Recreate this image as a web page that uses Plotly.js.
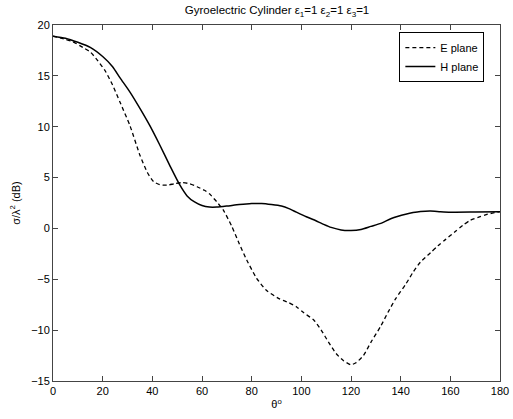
<!DOCTYPE html>
<html>
<head>
<meta charset="utf-8">
<script src="https://cdn.plot.ly/plotly-3.0.1.min.js"></script>
<style>html,body{margin:0;padding:0;background:#fff;}#chart{width:513px;height:419px;}</style>
</head>
<body>
<div id="chart"></div>
<script>
const eTheta = [0,5,8,12,15,18,21,24,27,31,35,38,40.5,43,46,49,52,55,58,61,63,66,68.6,72,75,78,82,86,91,95,98,101,105,108,111,114,117,120,122,125,128,132,135,138,142,145,148,152,155,158,162,165,168,172,175,180];
const ePlane = [18.9,18.6,18.35,17.8,17.35,16.5,15.5,14.1,12.4,10.1,7.2,5.5,4.6,4.3,4.25,4.4,4.5,4.4,4.1,3.75,3.4,2.6,1.8,0.2,-1.5,-3.1,-4.9,-6.1,-6.9,-7.3,-7.7,-8.3,-9.0,-10.0,-11.2,-12.3,-13.0,-13.4,-13.2,-12.5,-11.2,-9.6,-8.2,-6.9,-5.5,-4.3,-3.3,-2.4,-1.7,-1.1,-0.3,0.3,0.8,1.15,1.4,1.65];
const hTheta = [0,5,10,15,20,24,27,31,35,39,43,47,51,54,57,60,63,66,70,75,80,84,88,92,95,98,102,105,109,112,116,120,124,128,132,136,139,142,145,148,152,156,160,170,180];
const hPlane = [18.9,18.7,18.3,17.8,16.9,15.9,14.8,13.4,11.8,10.1,8.2,6.2,4.3,3.2,2.6,2.25,2.1,2.1,2.2,2.35,2.45,2.45,2.35,2.2,1.95,1.6,1.15,0.85,0.4,0.1,-0.15,-0.2,-0.1,0.2,0.5,0.95,1.2,1.4,1.56,1.67,1.72,1.65,1.6,1.62,1.65];
const xTicks = [0,20,40,60,80,100,120,140,160,180];
const yTicks = [-15,-10,-5,0,5,10,15,20];
const seriesNames = ['E plane','H plane'];
const titleText = 'Gyroelectric Cylinder ε<sub>1</sub>=1 ε<sub>2</sub>=1 ε<sub>3</sub>=1';
const xTitle = 'θ<sup>o</sup>';
const yTitle = 'σ/λ<sup>2</sup> (dB)';

const font = {family: 'Liberation Sans, Arial, sans-serif', size: 11, color: '#000'};
const traces = [
  {x: eTheta, y: ePlane, name: seriesNames[0], mode: 'lines',
   line: {color: '#000', width: 1.3, dash: '4px,3px', shape: 'spline', smoothing: 0.6}},
  {x: hTheta, y: hPlane, name: seriesNames[1], mode: 'lines',
   line: {color: '#000', width: 1.5, shape: 'spline', smoothing: 0.6}}
];
const axisCommon = {
  showgrid: false, zeroline: false, showline: true, linecolor: '#444', linewidth: 1,
  mirror: 'ticks', ticks: 'inside', ticklen: 5, tickcolor: '#444', tickfont: font, tickmode: 'array'
};
const layout = {
  width: 513, height: 419,
  margin: {l: 53, r: 13, t: 25, b: 38},
  paper_bgcolor: '#fff', plot_bgcolor: '#fff',
  font: font,
  title: {text: titleText, font: {family: font.family, size: 11.5, color: '#000'}, x: 0.54, xanchor: 'center', y: 0.985, yanchor: 'top'},
  xaxis: Object.assign({}, axisCommon, {range: [0, 180], tickvals: xTicks,
    title: {text: xTitle, font: font, standoff: 4}}),
  yaxis: Object.assign({}, axisCommon, {range: [-15, 20], tickvals: yTicks,
    title: {text: yTitle, font: font, standoff: 8}}),
  showlegend: true,
  legend: {x: 0.965, xanchor: 'right', y: 0.98, yanchor: 'top', bgcolor: '#fff', bordercolor: '#000', borderwidth: 1,
    font: font, tracegroupgap: 0, itemwidth: 30}
};
Plotly.newPlot('chart', traces, layout, {displayModeBar: false, staticPlot: true});
</script>
</body>
</html>
